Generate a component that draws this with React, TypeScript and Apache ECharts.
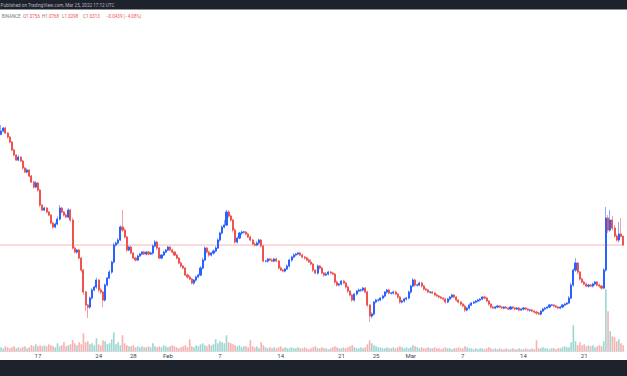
import React, { useEffect, useRef } from "react";
import * as echarts from "echarts";

// 6-hour candles, first one opens 2022-01-12 18:00 UTC
const startUTC = Date.UTC(2022, 0, 12, 18);
const firstOpen = 1.585;

const janCloses = [
  1.601, 1.616, 1.591, 1.571, 1.546, 1.506, 1.481, 1.456, 1.471, 1.451,
  1.416, 1.396, 1.406, 1.376, 1.346, 1.321, 1.341, 1.306, 1.231, 1.206,
  1.216, 1.196, 1.181, 1.141, 1.121, 1.136, 1.161, 1.216, 1.196, 1.181,
  1.171, 1.206, 1.156, 1.016, 0.996, 1.006, 0.966, 0.906, 0.796, 0.731,
  0.721, 0.766, 0.806, 0.821, 0.856, 0.806, 0.796, 0.756, 0.831, 0.866,
  0.896, 0.946, 1.031, 1.041, 1.056, 1.121, 1.106, 1.071, 1.006, 1.021,
  0.991, 0.966, 0.956, 0.976, 0.986, 0.996, 0.986, 0.996, 0.986, 0.991,
  1.026, 1.046, 1.016, 0.966, 0.981, 0.996, 1.006,
];
const febCloses = [
  1.021, 1.006, 0.996, 0.981, 0.966, 0.941, 0.926, 0.916, 0.881, 0.871,
  0.861, 0.841, 0.856, 0.871, 0.881, 0.916, 0.956, 1.016, 0.996, 0.981,
  0.991, 1.001, 1.016, 1.056, 1.091, 1.121, 1.131, 1.196, 1.176, 1.156,
  1.106, 1.046, 1.066, 1.091, 1.096, 1.096, 1.086, 1.071, 1.056, 1.036,
  1.031, 1.041, 1.056, 1.026, 0.951, 0.951, 0.961, 0.956, 0.951, 0.961,
  0.951, 0.916, 0.906, 0.901, 0.911, 0.926, 0.956, 0.971, 0.981, 0.986,
  0.991, 0.981, 0.971, 0.966, 0.956, 0.946, 0.936, 0.906, 0.891, 0.926,
  0.916, 0.891, 0.881, 0.886, 0.896, 0.891, 0.886, 0.846, 0.831, 0.836,
  0.851, 0.841, 0.821, 0.801, 0.781, 0.756, 0.786, 0.801, 0.806, 0.806,
  0.816, 0.796, 0.731, 0.676, 0.686, 0.746, 0.756, 0.756, 0.766, 0.776,
  0.796, 0.806, 0.791, 0.791, 0.796, 0.786, 0.771, 0.746, 0.751, 0.761,
  0.766, 0.796,
];
const marCloses = [
  0.826, 0.856, 0.831, 0.831, 0.841, 0.826, 0.811, 0.806, 0.796, 0.796,
  0.791, 0.781, 0.776, 0.771, 0.766, 0.761, 0.746, 0.761, 0.771, 0.781,
  0.771, 0.756, 0.746, 0.736, 0.726, 0.706, 0.716, 0.731, 0.741, 0.746,
  0.751, 0.756, 0.761, 0.771, 0.766, 0.751, 0.736, 0.721, 0.716, 0.721,
  0.726, 0.721, 0.716, 0.721, 0.716, 0.711, 0.721, 0.716, 0.711, 0.716,
  0.706, 0.711, 0.716, 0.711, 0.706, 0.706, 0.701, 0.696, 0.691, 0.686,
  0.701, 0.711, 0.716, 0.721, 0.731, 0.731, 0.726, 0.721, 0.716, 0.721,
  0.731, 0.736, 0.741, 0.766, 0.831, 0.906, 0.941, 0.896, 0.861, 0.846,
  0.836, 0.826, 0.831, 0.826, 0.836, 0.846, 0.831, 0.826, 0.816, 0.906,
  1.166, 1.106, 1.156, 1.116, 1.076, 1.056, 1.086, 1.0756, 1.0313,
];

// upper / lower wick lengths, in thousandths of a price unit
const janWickHi = [
  30, 6, 8, 5, 4, 6, 7, 5, 9, 4, 6, 5, 8, 4, 6, 7, 10, 5, 6, 4,
  8, 5, 6, 4, 7, 9, 12, 15, 6, 5, 8, 10, 6, 12, 8, 5, 6, 4, 5, 6,
  5, 8, 10, 7, 12, 6, 9, 5, 8, 6, 10, 7, 12, 8, 10, 9, 85, 10, 6, 8,
  7, 5, 6, 8, 6, 5, 7, 6, 5, 6, 8, 10, 7, 6, 5, 8, 6,
];
const janWickLo = [
  5, 6, 4, 8, 6, 5, 7, 4, 6, 5, 8, 4, 6, 7, 5, 9, 6, 8, 10, 5,
  6, 8, 5, 7, 9, 6, 5, 8, 6, 7, 5, 6, 10, 8, 6, 9, 7, 12, 15, 30,
  55, 10, 8, 6, 9, 12, 10, 35, 8, 6, 5, 9, 7, 8, 6, 5, 10, 8, 9, 6,
  7, 5, 6, 5, 4, 6, 5, 7, 6, 5, 8, 6, 10, 7, 6, 5, 6,
];
const febWickHi = [
  6, 5, 7, 4, 6, 5, 8, 6, 5, 7, 9, 6, 5, 8, 6, 10, 12, 8, 6, 7,
  5, 8, 10, 9, 7, 8, 25, 12, 10, 8, 6, 9, 7, 5, 8, 6, 5, 7, 9, 6,
  8, 10, 7, 6, 5, 7, 6, 5, 8, 6, 7, 5, 9, 6, 5, 8, 7, 6, 9, 5,
  6, 8, 5, 6, 7, 9, 15, 6, 5, 8, 6, 7, 5, 10, 6, 5, 7, 6, 8, 6,
  5, 7, 6, 8, 5, 7, 6, 5, 8, 7, 6, 5, 7, 6, 9, 5, 6, 7, 5, 6,
  5, 6, 7, 5, 8, 6, 6, 5, 7, 6, 6, 8,
];
const febWickLo = [
  5, 6, 8, 5, 7, 6, 9, 6, 5, 8, 6, 7, 10, 8, 6, 5, 7, 6, 8, 9,
  7, 8, 6, 5, 9, 7, 6, 5, 8, 10, 12, 8, 7, 6, 10, 8, 6, 5, 7, 6,
  8, 6, 10, 8, 6, 7, 9, 6, 5, 7, 6, 8, 5, 7, 6, 5, 8, 9, 6, 7,
  5, 6, 7, 8, 6, 5, 7, 10, 6, 8, 7, 6, 9, 5, 8, 7, 6, 12, 8, 6,
  7, 5, 8, 10, 6, 9, 7, 8, 6, 10, 8, 6, 10, 30, 12, 8, 7, 9, 6, 8,
  7, 9, 6, 8, 7, 6, 10, 8, 7, 9, 8, 7,
];
const marWickHi = [
  6, 10, 7, 5, 8, 6, 5, 7, 6, 5, 6, 5, 7, 5, 6, 4, 8, 6, 5, 7,
  6, 5, 4, 6, 5, 8, 6, 7, 5, 6, 5, 6, 4, 5, 7, 6, 5, 4, 6, 5,
  4, 5, 6, 4, 5, 5, 6, 4, 5, 6, 5, 4, 6, 5, 4, 5, 6, 4, 5, 6,
  5, 6, 5, 4, 6, 5, 4, 6, 5, 5, 5, 6, 5, 10, 12, 8, 25, 6, 5, 7,
  6, 8, 5, 6, 7, 5, 6, 8, 6, 10, 55, 15, 50, 20, 15, 10, 60, 80, 0,
];
const marWickLo = [
  8, 6, 9, 7, 6, 8, 7, 5, 6, 8, 6, 7, 5, 8, 6, 7, 9, 6, 8, 7,
  6, 8, 7, 9, 6, 10, 7, 8, 6, 5, 7, 6, 8, 5, 7, 6, 9, 7, 5, 6,
  5, 6, 5, 7, 5, 6, 5, 7, 6, 5, 6, 5, 7, 5, 6, 8, 6, 7, 9, 6,
  7, 5, 6, 5, 6, 5, 7, 5, 6, 6, 5, 6, 5, 4, 6, 8, 10, 12, 8, 7,
  6, 7, 8, 6, 7, 8, 6, 9, 8, 6, 8, 15, 10, 12, 10, 8, 12, 8, 0,
];
// the current (last) candle, from the legend line
const lastOpen = 1.0756;
const lastHigh = 1.0768;
const lastLow = 1.0298;
const lastClose = 1.0313;

const janVolumes = [
  4, 3, 5, 4, 3, 4, 5, 3, 4, 3, 4, 5, 3, 4, 6, 5, 7, 5, 6, 5,
  6, 5, 7, 6, 5, 4, 8, 5, 6, 9, 5, 6, 7, 11, 8, 6, 9, 7, 18, 9,
  10, 7, 8, 6, 13, 7, 6, 11, 10, 7, 8, 12, 19, 7, 9, 6, 16, 8, 6, 5,
  5, 6, 4, 5, 4, 5, 4, 4, 5, 4, 8, 5, 4, 5, 4, 6, 5,
];
const febVolumes = [
  4, 5, 6, 5, 4, 3, 4, 5, 6, 4, 12, 5, 4, 6, 5, 7, 8, 6, 5, 7,
  6, 7, 12, 8, 10, 9, 8, 16, 9, 8, 7, 6, 5, 6, 4, 5, 5, 4, 11, 5,
  4, 5, 3, 9, 6, 4, 3, 4, 3, 4, 3, 4, 5, 3, 4, 3, 3, 4, 3, 3,
  4, 3, 3, 4, 3, 2, 3, 4, 5, 3, 3, 4, 3, 3, 2, 3, 4, 5, 4, 3,
  3, 4, 3, 4, 5, 6, 4, 3, 3, 4, 3, 4, 7, 11, 8, 6, 5, 4, 4, 3,
  3, 4, 3, 3, 4, 3, 4, 5, 4, 3, 4, 3,
];
const marVolumes = [
  4, 6, 5, 4, 3, 4, 3, 3, 4, 3, 3, 4, 3, 3, 2, 3, 4, 3, 3, 2,
  3, 3, 4, 3, 3, 5, 4, 3, 3, 2, 3, 2, 3, 3, 2, 3, 4, 3, 2, 3,
  2, 3, 2, 2, 3, 2, 2, 3, 2, 2, 3, 2, 2, 3, 2, 2, 3, 2, 11, 3,
  3, 4, 3, 3, 2, 3, 3, 2, 3, 3, 4, 5, 4, 4, 9, 26, 10, 6, 9, 6,
  7, 5, 6, 5, 6, 4, 5, 6, 5, 10, 62, 40, 20, 15, 14, 10, 12, 8, 6,
];

const tickDays = [
  "2022-01-17", "2022-01-24", "2022-01-28", "2022-02-01", "2022-02-07", "2022-02-14",
  "2022-02-21", "2022-02-25", "2022-03-01", "2022-03-07", "2022-03-14", "2022-03-21",
];
const tickLabels = ["17", "24", "28", "Feb", "7", "14", "21", "25", "Mar", "7", "14", "21"];

const UP = "#2962ff";
const DOWN = "#ef5350";
const UP_WICK = "rgba(41,98,255,0.55)";
const DOWN_WICK = "rgba(239,83,80,0.55)";
const UP_VOL = "rgba(38,166,154,0.45)";
const DOWN_VOL = "rgba(239,83,80,0.45)";
const PRICE_LINE = "#f5b3b2";

const pad = (n: number) => (n < 10 ? "0" + n : "" + n);

export default function App() {
  const ref = useRef<HTMLDivElement>(null);
  useEffect(() => {
    const chart = echarts.init(ref.current!, null, { renderer: "svg" });
    const closes = [...janCloses, ...febCloses, ...marCloses];
    const wickHi = [...janWickHi, ...febWickHi, ...marWickHi];
    const wickLo = [...janWickLo, ...febWickLo, ...marWickLo];
    const volumes = [...janVolumes, ...febVolumes, ...marVolumes];
    const n = closes.length;
    const cats = closes.map((_, i) => {
      const d = new Date(startUTC + i * 6 * 3600 * 1000);
      return `${d.getUTCFullYear()}-${pad(d.getUTCMonth() + 1)}-${pad(d.getUTCDate())} ${pad(d.getUTCHours())}:00`;
    });
    const ohlc = closes.map((c, i) => {
      const o = i === 0 ? firstOpen : closes[i - 1];
      return [o, c, Math.min(o, c) - wickLo[i] / 1000, Math.max(o, c) + wickHi[i] / 1000];
    });
    ohlc[n - 1] = [lastOpen, lastClose, lastLow, lastHigh];
    const bodies = ohlc.map(([o, c]) => [o, c, Math.min(o, c), Math.max(o, c)]);
    const volData = volumes.map((v, i) => ({
      value: v,
      itemStyle: { color: ohlc[i][1] >= ohlc[i][0] ? UP_VOL : DOWN_VOL },
    }));
    // horizontal last-price line across the whole pane
    const lastPriceLine = cats.map(() => lastClose);
    const tickMap: Record<string, string> = {};
    tickDays.forEach((d, k) => (tickMap[d + " 00:00"] = tickLabels[k]));

    const slot = 8.683 / 4;
    const gridLeft = 0.2 - slot / 2;
    const gridWidth = n * slot;
    const font = "Roboto";

    chart.setOption({
      animation: false,
      backgroundColor: "#ffffff",
      grid: [
        { left: gridLeft, width: gridWidth, top: 11.26, height: 340 },
        { left: gridLeft, width: gridWidth, top: 251.26, height: 100 },
      ],
      xAxis: [
        {
          type: "category",
          gridIndex: 0,
          data: cats,
          boundaryGap: true,
          axisLine: { show: true, lineStyle: { color: "#e0e3eb", width: 1 } },
          axisTick: { show: false },
          splitLine: { show: false },
          axisLabel: {
            interval: (_i: number, v: string) => tickMap[v] !== undefined,
            formatter: (v: string) => tickMap[v] ?? "",
            fontSize: 6,
            fontFamily: font,
            color: "#434651",
            margin: 1.5,
          },
        },
        {
          type: "category",
          gridIndex: 1,
          data: cats,
          boundaryGap: true,
          show: false,
        },
        {
          type: "category",
          gridIndex: 0,
          data: cats,
          boundaryGap: false,
          show: false,
        },
      ],
      yAxis: [
        { type: "value", gridIndex: 0, min: 0.5, max: 2.2, show: false, splitLine: { show: false } },
        { type: "value", gridIndex: 1, min: 0, max: 100, show: false, splitLine: { show: false } },
      ],
      series: [
        {
          name: "Volume",
          type: "bar",
          xAxisIndex: 1,
          yAxisIndex: 1,
          data: volData,
          barWidth: "75%",
          z: 1,
        },
        {
          name: "Last price",
          type: "line",
          xAxisIndex: 2,
          yAxisIndex: 0,
          data: lastPriceLine,
          showSymbol: false,
          symbol: "none",
          silent: true,
          lineStyle: { color: PRICE_LINE, width: 1, type: "solid" },
          itemStyle: { color: PRICE_LINE },
          z: 1,
        },
        {
          name: "Wicks",
          type: "candlestick",
          xAxisIndex: 0,
          yAxisIndex: 0,
          data: ohlc,
          barWidth: "72%",
          itemStyle: {
            color: UP_WICK,
            color0: DOWN_WICK,
            borderColor: UP_WICK,
            borderColor0: DOWN_WICK,
            borderWidth: 1,
          },
          z: 2,
        },
        {
          name: "Bodies",
          type: "candlestick",
          xAxisIndex: 0,
          yAxisIndex: 0,
          data: bodies,
          barWidth: "72%",
          itemStyle: {
            color: UP,
            color0: DOWN,
            borderColor: UP,
            borderColor0: DOWN,
            borderWidth: 1,
          },
          z: 3,
        },
      ],
      graphic: [
        { type: "rect", shape: { x: 0, y: 0, width: 627, height: 9.5 }, style: { fill: "#1e222d" }, z: 10 },
        {
          type: "text",
          x: 0.5,
          y: 5,
          style: {
            text: "Published on TradingView.com, Mar 25, 2022 17:12 UTC",
            fill: "#b2b5be",
            fontSize: 4.6,
            fontFamily: font,
            verticalAlign: "middle",
            align: "left",
          },
          z: 11,
        },
        { type: "rect", shape: { x: 0, y: 360, width: 627, height: 16 }, style: { fill: "#1e222d" }, z: 10 },
        {
          type: "text",
          x: 1.7,
          y: 16,
          style: { text: "BINANCE", fill: "#787b86", fontSize: 4.5, fontFamily: font, verticalAlign: "middle" },
          z: 11,
        },
        ...[
          ["O", "1.0756", 23],
          ["H", "1.0768", 42],
          ["L", "1.0298", 62],
          ["C", "1.0313", 83],
        ].map(([k, v, x]) => ({
          type: "text",
          x: x as number,
          y: 16,
          style: {
            text: `{k|${k}}{v|${v}}`,
            fontSize: 4.5,
            fontFamily: font,
            verticalAlign: "middle",
            rich: {
              k: { fill: "#787b86", fontSize: 4.5, fontFamily: font },
              v: { fill: DOWN, fontSize: 4.5, fontFamily: font },
            },
          },
          z: 11,
        })),
        {
          type: "text",
          x: 106,
          y: 16,
          style: { text: "−0.0439 (−4.08%)", fill: DOWN, fontSize: 4.5, fontFamily: font, verticalAlign: "middle" },
          z: 11,
        },
      ],
    });
    return () => chart.dispose();
  }, []);
  return <div ref={ref} style={{ position: "fixed", left: 0, top: 0, width: 627, height: 376 }} />;
}
